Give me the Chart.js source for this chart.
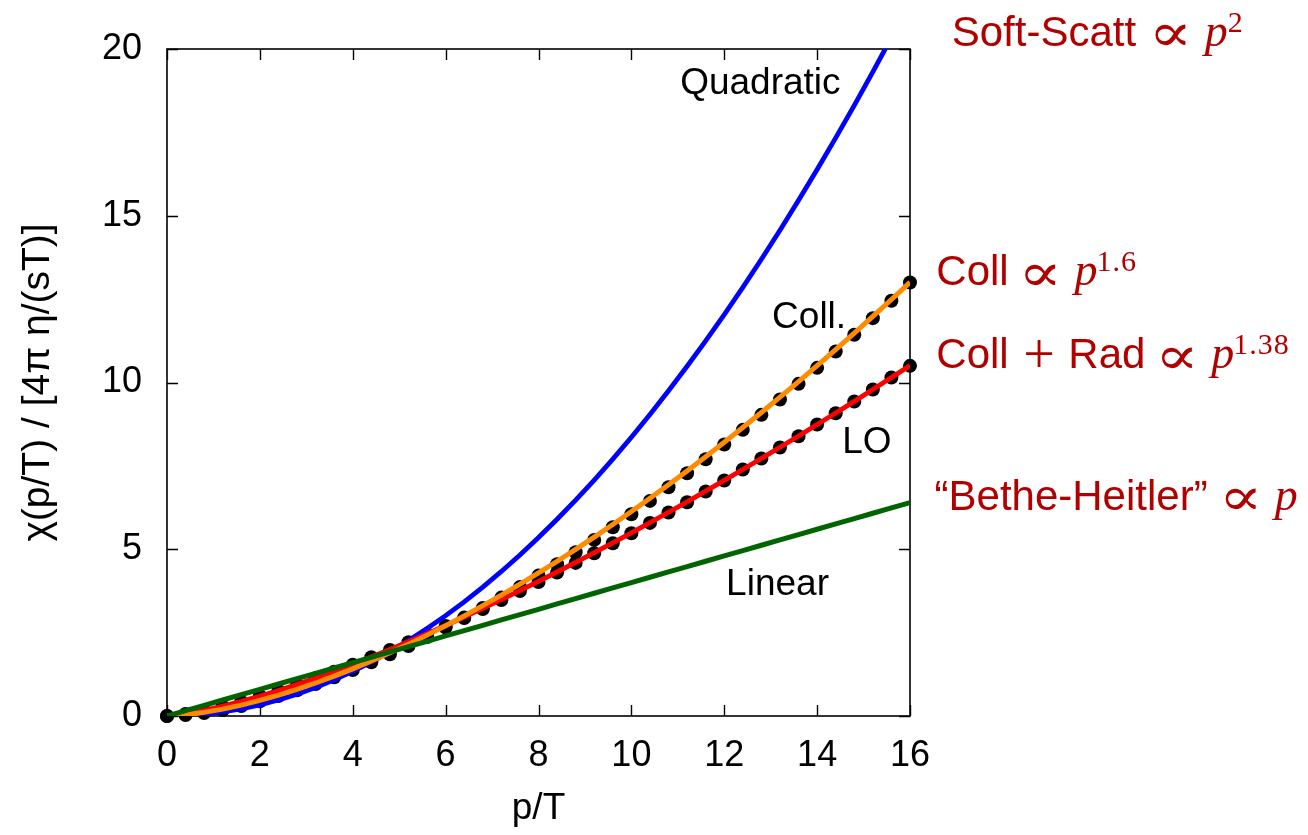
<!DOCTYPE html>
<html>
<head>
<meta charset="utf-8">
<script src="https://cdn.jsdelivr.net/npm/chart.js@4/dist/chart.umd.min.js"></script>
<style>
  html, body { margin: 0; padding: 0; background: #ffffff; }
  #wrap { width: 1308px; height: 835px; position: relative; }
</style>
</head>
<body>
<div id="wrap"><canvas id="c" width="1308" height="835"></canvas></div>
<script>
// ---- data ----
const pT = [0,0.4,0.8,1.2,1.6,2.0,2.4,2.8,3.2,3.6,4.0,4.4,4.8,5.2,5.6,6.0,6.4,6.8,7.2,7.6,8.0,8.4,8.8,9.2,9.6,10.0,10.4,10.8,11.2,11.6,12.0,12.4,12.8,13.2,13.6,14.0,14.4,14.8,15.2,15.6,16.0];

const quadratic = [0,0.013,0.054,0.120,0.214,0.334,0.482,0.655,0.856,1.083,1.338,1.618,1.926,2.261,2.622,3.010,3.424,3.866,4.334,4.829,5.350,5.899,6.474,7.076,7.705,8.360,9.042,9.751,10.487,11.249,12.038,12.854,13.697,14.566,15.463,16.386,17.335,18.311,19.315,20.345,21.402];

const linear = [0,0.16,0.32,0.48,0.64,0.80,0.96,1.12,1.28,1.44,1.60,1.76,1.92,2.08,2.24,2.40,2.56,2.72,2.88,3.04,3.20,3.36,3.52,3.68,3.84,4.00,4.16,4.32,4.48,4.64,4.80,4.96,5.12,5.28,5.44,5.60,5.76,5.92,6.08,6.24,6.40];

const collFit = [0,0.036,0.108,0.206,0.327,0.467,0.625,0.800,0.990,1.196,1.415,1.648,1.895,2.153,2.425,2.707,3.003,3.308,3.625,3.952,4.290,4.638,4.997,5.365,5.743,6.131,6.527,6.933,7.349,7.774,8.207,8.649,9.100,9.560,10.028,10.504,10.988,11.481,11.981,12.489,13.005];

const collRadFit = [0,0.065,0.168,0.295,0.438,0.596,0.767,0.948,1.140,1.341,1.551,1.770,1.995,2.228,2.468,2.715,2.967,3.226,3.491,3.762,4.037,4.318,4.605,4.896,5.193,5.493,5.799,6.109,6.423,6.742,7.065,7.392,7.723,8.058,8.397,8.741,9.086,9.435,9.790,10.148,10.508];

const collPoints = [0,0.03,0.09,0.18,0.30,0.44,0.60,0.77,0.96,1.16,1.38,1.61,1.85,2.10,2.37,2.65,2.94,3.24,3.55,3.87,4.21,4.55,4.91,5.28,5.66,6.05,6.45,6.86,7.28,7.70,8.14,8.58,9.03,9.49,9.96,10.44,10.93,11.43,11.93,12.45,13.00];

const loPoints = [0,0.06,0.16,0.29,0.43,0.59,0.76,0.94,1.13,1.33,1.54,1.76,1.98,2.21,2.45,2.70,2.95,3.21,3.48,3.75,4.02,4.30,4.59,4.88,5.18,5.48,5.79,6.10,6.41,6.73,7.06,7.39,7.72,8.05,8.39,8.74,9.08,9.43,9.79,10.15,10.50];

const xTicks = [0,2,4,6,8,10,12,14,16];
const yTicks = [0,5,10,15,20];

// in-plot labels (data coordinates, left aligned, baseline)
const plotLabels = [
  { text: 'Quadratic', x: 11.05, y: 18.65 },
  { text: 'Coll.',     x: 13.03, y: 11.63 },
  { text: 'LO',        x: 14.54, y: 7.89 },
  { text: 'Linear',    x: 12.04, y: 3.63 }
];

// right-hand annotations: pieces [text, kind], anchor (ink-left, baseline) in data coordinates
const sideLabels = [
  { x: 16.92, y: 20.1,  parts: [['Soft-Scatt', 'sans'], ['\u221D', 'prop'], ['p', 'ital'], ['2', 'sup']] },
  { x: 16.61, y: 12.92, parts: [['Coll', 'sans'], ['\u221D', 'prop'], ['p', 'ital'], ['1.6', 'sup']] },
  { x: 16.61, y: 10.43, parts: [['Coll', 'sans'], ['+', 'plus'], ['Rad', 'sans'], ['\u221D', 'prop'], ['p', 'ital'], ['1.38', 'sup']] },
  { x: 16.55, y: 6.18,  parts: [['\u201CBethe-Heitler\u201D', 'sans'], ['\u221D', 'prop'], ['p', 'ital']] }
];

// ---- build datasets ----
const pts = (ys) => pT.map((p, i) => ({ x: p, y: ys[i] }));

const FONT = '"Liberation Sans", Arial, Helvetica, sans-serif';
const KIND = {
  sans: { font: '42px ' + FONT, gap: 19 },
  prop: { font: '54px "DejaVu Sans ExtraLight", "DejaVu Serif", serif', gap: 18, center: 10.5, sx: 1.2 },
  plus: { font: '56px "Liberation Serif", serif', gap: 19, center: 15 },
  ital: { font: 'italic 46px "Liberation Serif", "DejaVu Serif", serif', gap: 16 },
  sup:  { font: '30px "Liberation Serif", "DejaVu Serif", serif', gap: 2, dy: -14, spacing: '1px' }
};

const decor = {
  id: 'decor',
  beforeDatasetsDraw(chart) {
    const { ctx, chartArea: a, scales: { x, y } } = chart;
    ctx.save();
    ctx.strokeStyle = '#000';
    ctx.lineWidth = 1.4;
    ctx.beginPath();
    const L = 11;
    xTicks.forEach(v => {
      const px = Math.round(x.getPixelForValue(v)) + 0.5;
      ctx.moveTo(px, a.bottom); ctx.lineTo(px, a.bottom - L);
      ctx.moveTo(px, a.top); ctx.lineTo(px, a.top + L);
    });
    yTicks.forEach(v => {
      const py = Math.round(y.getPixelForValue(v)) + 0.5;
      ctx.moveTo(a.left, py); ctx.lineTo(a.left + L, py);
      ctx.moveTo(a.right, py); ctx.lineTo(a.right - L, py);
    });
    ctx.stroke();
    ctx.lineWidth = 1.6;
    ctx.strokeRect(a.left, a.top, a.right - a.left, a.bottom - a.top);
    ctx.restore();
  },
  afterDraw(chart) {
    const { ctx, scales: { x, y } } = chart;
    ctx.save();
    ctx.fillStyle = '#000';
    ctx.font = '37px ' + FONT;
    ctx.textBaseline = 'alphabetic';
    ctx.textAlign = 'left';
    plotLabels.forEach(l => {
      ctx.fillText(l.text, x.getPixelForValue(l.x), y.getPixelForValue(l.y));
    });
    ctx.fillStyle = '#b00000';
    sideLabels.forEach(l => {
      let cursor = x.getPixelForValue(l.x);
      const base = y.getPixelForValue(l.y);
      l.parts.forEach(([t, kind], idx) => {
        const k = KIND[kind];
        const sx = k.sx || 1;
        ctx.font = k.font;
        ctx.letterSpacing = k.spacing || '0px';
        const m = ctx.measureText(t);
        const gap = idx === 0 ? 0 : k.gap;
        const px = cursor + gap + m.actualBoundingBoxLeft * sx;
        let dy = k.dy || 0;
        if (k.center !== undefined) {
          const inkMid = (m.actualBoundingBoxAscent - m.actualBoundingBoxDescent) / 2;
          dy = inkMid - k.center;
        }
        ctx.save();
        ctx.translate(px, base + dy);
        ctx.scale(sx, 1);
        ctx.fillText(t, 0, 0);
        ctx.restore();
        cursor = px + m.actualBoundingBoxRight * sx;
      });
    });
    ctx.letterSpacing = '0px';
    ctx.restore();
  }
};

const lineDs = (label, data, color, width) => ({
  type: 'line', label, data: pts(data), borderColor: color, backgroundColor: color,
  borderWidth: width, pointRadius: 0, fill: false, tension: 0, clip: 0
});

new Chart(document.getElementById('c'), {
  type: 'scatter',
  data: {
    datasets: [
      lineDs('Bethe-Heitler (linear)', linear, '#006400', 5),
      lineDs('Coll fit', collFit, '#ff8c00', 5),
      lineDs('Coll + Rad fit', collRadFit, '#ff0000', 4.8),
      lineDs('Quadratic', quadratic, '#0000ff', 4.8),
      { label: 'Coll points', data: pts(collPoints), showLine: false, pointRadius: 7,
        pointBackgroundColor: '#000', pointBorderColor: '#000', pointBorderWidth: 0, clip: false },
      { label: 'LO points', data: pts(loPoints), showLine: false, pointRadius: 7,
        pointBackgroundColor: '#000', pointBorderColor: '#000', pointBorderWidth: 0, clip: false }
    ]
  },
  options: {
    responsive: false,
    animation: false,
    layout: { padding: { top: 49, right: 398, left: 0, bottom: 0 } },
    plugins: { legend: { display: false }, tooltip: { enabled: false } },
    scales: {
      x: {
        type: 'linear', min: 0, max: 16,
        afterFit(s) { s.height = 119; },
        afterBuildTicks(s) { s.ticks = xTicks.map(v => ({ value: v })); },
        grid: { display: false, drawTicks: false },
        border: { display: false },
        ticks: { color: '#000', font: { family: FONT, size: 36 }, padding: 18, maxRotation: 0, autoSkip: false },
        title: { display: true, text: 'p/T', color: '#000', font: { family: FONT, size: 37 }, padding: { top: 0, bottom: 4 } }
      },
      y: {
        type: 'linear', min: 0, max: 20,
        afterFit(s) { s.width = 167; },
        afterBuildTicks(s) { s.ticks = yTicks.map(v => ({ value: v })); },
        grid: { display: false, drawTicks: false },
        border: { display: false },
        ticks: { color: '#000', font: { family: FONT, size: 36 }, padding: 25, autoSkip: false },
        title: { display: true, text: '\u03C7(p/T) / [4\u03C0 \u03B7/(sT)]', color: '#000', font: { family: FONT, size: 39 }, padding: { top: 15, bottom: 0 } }
      }
    }
  },
  plugins: [decor]
});
</script>
</body>
</html>
